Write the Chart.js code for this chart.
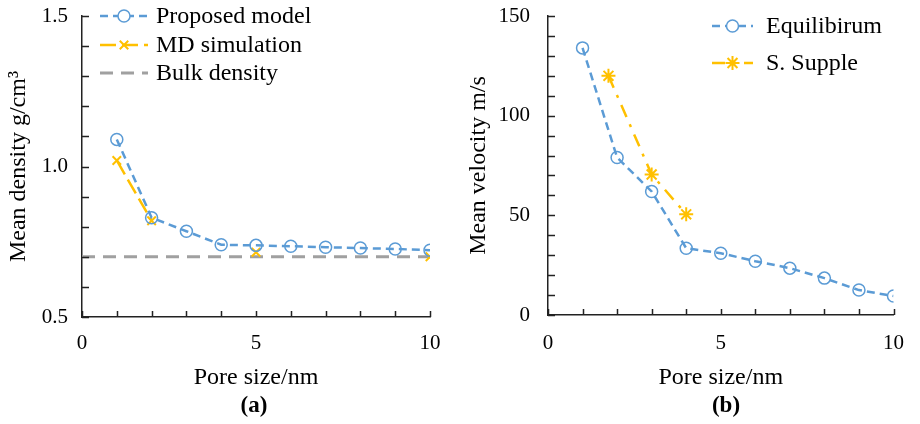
<!DOCTYPE html>
<html>
<head>
<meta charset="utf-8">
<script src="https://cdn.jsdelivr.net/npm/chart.js@4.4.1/dist/chart.umd.min.js"></script>
<style>
  body { margin: 0; background: #fff; }
  #wrap { position: relative; width: 920px; height: 424px; }
  canvas { position: absolute; top: 0; }
  .tag { position: absolute; top: 392px; width: 60px; text-align: center;
         font: bold 23px "Liberation Serif", serif; color: #000; }
</style>
</head>
<body>
<div id="wrap">
  <canvas id="densityChart" width="460" height="424" style="left:0"></canvas>
  <canvas id="velocityChart" width="460" height="424" style="left:460px"></canvas>
  <div class="tag" style="left:224px">(a)</div>
  <div class="tag" style="left:696px">(b)</div>
</div>
<script>
// Densidade média (a)
const poreSize = [1, 2, 3, 4, 5, 6, 7, 8, 9, 10];
const proposedModel = [1.09, 0.83, 0.785, 0.74, 0.738, 0.735, 0.732, 0.729, 0.726, 0.722];
const mdPore = [1, 2, 5, 10];
const mdDensity = [1.02, 0.82, 0.715, 0.70];
const bulkPore = [0, 10];
const bulkDensity = [0.70, 0.70];

// Velocidade média (b)
const equilibrium = [134, 79, 62, 33.5, 31, 27, 23.5, 18.5, 12.5, 9.5];
const supplePore = [1.75, 3, 4];
const suppleVelocity = [120, 70.5, 50.5];

const serif = "'Liberation Serif', 'Times New Roman', serif";
const blue = "#5B9BD5";
const gold = "#FFC000";
const grey = "#A0A0A0";

const pts = (xs, ys) => xs.map((x, i) => ({ x: x, y: ys[i] }));

// Marcas dos eixos voltadas para dentro
const innerTicks = {
  id: "innerTicks",
  afterDatasetsDraw(chart) {
    const { ctx, chartArea, scales } = chart;
    ctx.save();
    ctx.strokeStyle = "#222";
    ctx.lineWidth = 1.5;
    ctx.beginPath();
    scales.x.ticks.forEach(t => {
      const px = Math.round(scales.x.getPixelForValue(t.value)) + 0.5;
      ctx.moveTo(px, chartArea.bottom);
      ctx.lineTo(px, chartArea.bottom - 6);
    });
    scales.y.ticks.forEach(t => {
      const py = Math.round(scales.y.getPixelForValue(t.value)) + 0.5;
      ctx.moveTo(chartArea.left, py);
      ctx.lineTo(chartArea.left + 7, py);
    });
    ctx.stroke();
    ctx.restore();
  }
};

// Legenda com amostra da linha tracejada e do marcador
const sampleLegend = {
  id: "sampleLegend",
  afterDraw(chart) {
    const opt = chart.options.plugins.sampleLegend;
    if (!opt) return;
    const ctx = chart.ctx;
    chart.data.datasets.forEach((ds, i) => {
      const y = opt.rows[i];
      ctx.save();
      ctx.strokeStyle = ds.borderColor;
      ctx.lineWidth = ds.borderWidth;
      ctx.setLineDash(ds.borderDash || []);
      ctx.beginPath();
      ctx.moveTo(opt.x0, y);
      ctx.lineTo(opt.x1, y);
      ctx.stroke();
      ctx.setLineDash([]);
      if (ds.pointRadius > 0 && Chart.helpers && Chart.helpers.drawPoint) {
        ctx.strokeStyle = ds.pointBorderColor || ds.borderColor;
        ctx.fillStyle = "#fff";
        ctx.lineWidth = ds.pointBorderWidth || 1.5;
        Chart.helpers.drawPoint(ctx, {
          pointStyle: ds.pointStyle,
          radius: ds.pointRadius,
          rotation: 0,
          borderWidth: ds.pointBorderWidth || 1.5
        }, (opt.x0 + opt.x1) / 2, y);
      }
      ctx.fillStyle = "#000";
      ctx.font = "24px " + serif;
      ctx.textAlign = "left";
      ctx.textBaseline = "middle";
      ctx.fillText(ds.label, opt.textX, y + 1);
      ctx.restore();
    });
  }
};

function makeOptions(cfg) {
  return {
    responsive: false,
    animation: false,
    devicePixelRatio: 1,
    layout: { padding: { left: 0, top: 16, right: cfg.right, bottom: 32 } },
    plugins: {
      legend: { display: false },
      tooltip: { enabled: false },
      sampleLegend: cfg.legend
    },
    scales: {
      x: {
        type: "linear",
        min: 0,
        max: 10,
        grid: { display: false, drawTicks: false },
        border: { display: true, color: "#222", width: 1.5 },
        ticks: {
          stepSize: 1,
          autoSkip: false,
          maxRotation: 0,
          padding: cfg.xPad,
          color: "#000",
          font: { family: serif, size: 21 },
          callback: v => (v % 5 === 0 ? String(v) : "")
        },
        title: {
          display: true,
          text: "Pore size/nm",
          color: "#000",
          font: { family: serif, size: 24 },
          padding: { top: 0, bottom: 0 }
        },
        afterFit: s => { s.height = cfg.xHeight; }
      },
      y: {
        min: cfg.yMin,
        max: cfg.yMax,
        grid: { display: false, drawTicks: false },
        border: { display: true, color: "#222", width: 1.5 },
        ticks: {
          stepSize: cfg.step,
          autoSkip: false,
          padding: cfg.tickPad,
          color: "#000",
          font: { family: serif, size: 21 },
          callback: cfg.yLabel
        },
        title: {
          display: true,
          text: cfg.yTitle,
          color: "#000",
          font: { family: serif, size: 24 },
          padding: { top: 4, bottom: 0 }
        },
        afterFit: s => {
          s.width = cfg.yWidth;
          s.paddingTop = 0;
          s.paddingBottom = 0;
        }
      }
    }
  };
}

new Chart(document.getElementById("densityChart"), {
  type: "line",
  data: {
    datasets: [
      {
        label: "Proposed model",
        data: pts(poreSize, proposedModel),
        borderColor: blue,
        borderWidth: 2.5,
        borderDash: [8, 5],
        pointStyle: "circle",
        pointRadius: 6,
        pointBorderWidth: 1.5,
        pointBorderColor: blue,
        pointBackgroundColor: "transparent",
        tension: 0
      },
      {
        label: "MD simulation",
        data: pts(mdPore, mdDensity),
        borderColor: gold,
        borderWidth: 2.5,
        borderDash: [16, 6],
        pointStyle: "crossRot",
        pointRadius: 6,
        pointBorderWidth: 2,
        pointBorderColor: gold,
        tension: 0,
        segment: { borderColor: c => (c.p0DataIndex >= 1 ? "transparent" : undefined) }
      },
      {
        label: "Bulk density",
        data: pts(bulkPore, bulkDensity),
        borderColor: grey,
        borderWidth: 3,
        borderDash: [13, 8],
        pointRadius: 0,
        tension: 0
      }
    ]
  },
  options: makeOptions({
    right: 30,
    yMin: 0.5,
    yMax: 1.5,
    step: 0.1,
    tickPad: 14,
    yWidth: 82,
    xHeight: 75,
    xPad: 14,
    yTitle: "Mean density g/cm³",
    yLabel: v => (Math.abs(v * 2 - Math.round(v * 2)) < 1e-6 ? v.toFixed(1) : ""),
    legend: { x0: 100, x1: 148, textX: 156, rows: [16, 45, 73] }
  }),
  plugins: [innerTicks, sampleLegend]
});

new Chart(document.getElementById("velocityChart"), {
  type: "line",
  data: {
    datasets: [
      {
        label: "Equilibirum",
        data: pts(poreSize, equilibrium),
        borderColor: blue,
        borderWidth: 2.5,
        borderDash: [8, 5],
        pointStyle: "circle",
        pointRadius: 6,
        pointBorderWidth: 1.5,
        pointBorderColor: blue,
        pointBackgroundColor: "transparent",
        tension: 0
      },
      {
        label: "S. Supple",
        data: pts(supplePore, suppleVelocity),
        borderColor: gold,
        borderWidth: 2.5,
        borderDash: [13, 8, 3, 8],
        pointStyle: "star",
        pointRadius: 7,
        pointBorderWidth: 2,
        pointBorderColor: gold,
        tension: 0
      }
    ]
  },
  options: makeOptions({
    right: 17,
    yMin: 0,
    yMax: 150,
    step: 10,
    tickPad: 18,
    yWidth: 88,
    xHeight: 77,
    xPad: 16,
    yTitle: "Mean velocity m/s",
    yLabel: v => (v % 50 === 0 ? String(v) : ""),
    legend: { x0: 252, x1: 293, textX: 306, rows: [26, 63] }
  }),
  plugins: [innerTicks, sampleLegend]
});
</script>
</body>
</html>
